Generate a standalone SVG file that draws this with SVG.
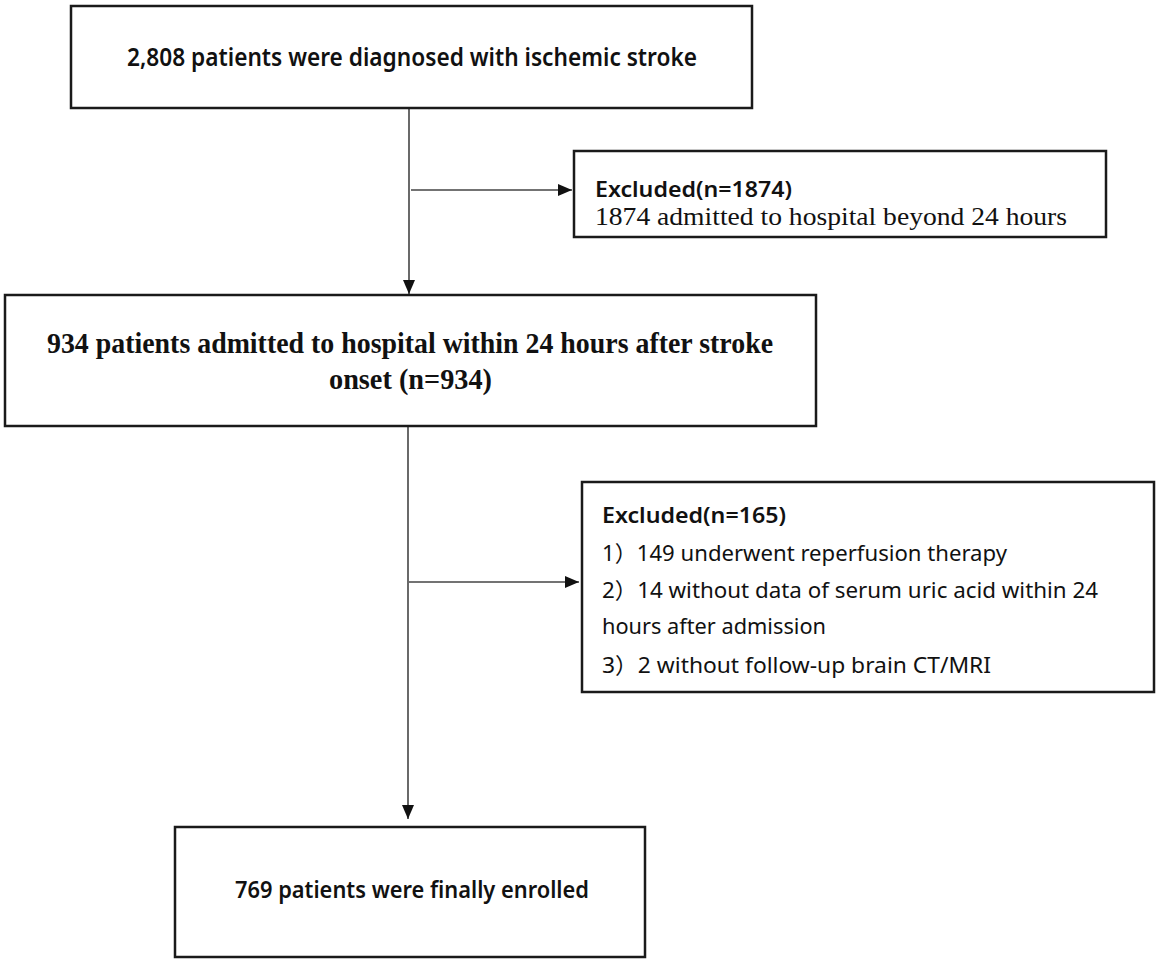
<svg xmlns="http://www.w3.org/2000/svg" width="1170" height="962" viewBox="0 0 1170 962">
<style>
.box{fill:#fff;stroke:#1a1a1a;stroke-width:2.5}
.sans{font-family:"Noto Sans","Noto Sans CJK SC",sans-serif;fill:#111}
.hd{font-weight:600}
.serif{font-family:"Liberation Serif","Times New Roman",serif;fill:#111}
.conn{stroke:#444;stroke-width:1.6;fill:none}
</style>
<defs>
<marker id="arr" viewBox="0 0 14 12" refX="14" refY="6" markerWidth="14" markerHeight="12" markerUnits="userSpaceOnUse" orient="auto">
<path d="M0,0 L14,6 L0,12 Z" fill="#111"/>
</marker>
</defs>
<rect width="1170" height="962" fill="#fff"/>
<g id="connectors">
<line class="conn" x1="409" y1="108" x2="409" y2="294" marker-end="url(#arr)"/>
<line class="conn" x1="411" y1="190" x2="572" y2="190" marker-end="url(#arr)"/>
<line class="conn" x1="408" y1="427" x2="408" y2="819" marker-end="url(#arr)"/>
<line class="conn" x1="409" y1="582" x2="579" y2="582" marker-end="url(#arr)"/>
</g>
<g id="n1">
<rect class="box" x="71" y="6" width="681" height="102"/>
<text class="sans hd" x="127" y="66" font-size="25" textLength="570" lengthAdjust="spacingAndGlyphs">2,808 patients were diagnosed with ischemic stroke</text>
</g>
<g id="ex1">
<rect class="box" x="574" y="151" width="532" height="86"/>
<text class="sans hd" x="595" y="197" font-size="21" textLength="197" lengthAdjust="spacingAndGlyphs">Excluded(n=1874)</text>
<text class="serif" x="595" y="225" font-size="25" textLength="472" lengthAdjust="spacingAndGlyphs">1874 admitted to hospital beyond 24 hours</text>
</g>
<g id="n2">
<rect class="box" x="5" y="295" width="811" height="131"/>
<text class="serif" font-weight="bold" x="47" y="353" font-size="30" textLength="726" lengthAdjust="spacingAndGlyphs">934 patients admitted to hospital within 24 hours after stroke</text>
<text class="serif" font-weight="bold" x="329" y="389" font-size="30" textLength="163" lengthAdjust="spacingAndGlyphs">onset (n=934)</text>
</g>
<g id="ex2">
<rect class="box" x="582" y="482" width="572" height="210"/>
<text class="sans hd" x="602" y="523" font-size="21" textLength="184" lengthAdjust="spacingAndGlyphs">Excluded(n=165)</text>
<text class="sans" x="602" y="561" font-size="22" textLength="405" lengthAdjust="spacingAndGlyphs">1）149 underwent reperfusion therapy</text>
<text class="sans" x="602" y="598" font-size="22" textLength="496" lengthAdjust="spacingAndGlyphs">2）14 without data of serum uric acid within 24</text>
<text class="sans" x="602" y="634" font-size="22" textLength="224" lengthAdjust="spacingAndGlyphs">hours after admission</text>
<text class="sans" x="602" y="673" font-size="22" textLength="389" lengthAdjust="spacingAndGlyphs">3）2 without follow-up brain CT/MRI</text>
</g>
<g id="n3">
<rect class="box" x="175" y="827" width="470" height="130"/>
<text class="sans hd" x="235" y="898" font-size="23" textLength="354" lengthAdjust="spacingAndGlyphs">769 patients were finally enrolled</text>
</g>
</svg>
